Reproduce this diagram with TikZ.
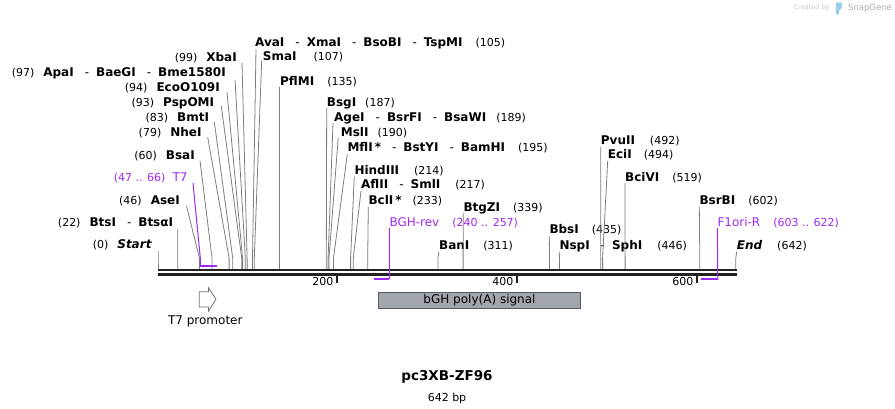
\documentclass[tikz,border=0pt]{standalone}
\usepackage{fontspec}
\setmainfont{DejaVu Sans}
\usepackage{tikz}
\usetikzlibrary{positioning}

\definecolor{primer}{RGB}{160,40,240}
\definecolor{leadgray}{RGB}{125,125,125}
\definecolor{bbcol}{RGB}{34,34,34}
\definecolor{featgray}{RGB}{163,167,173}
\definecolor{featedge}{RGB}{85,90,96}
\definecolor{logoblue}{RGB}{150,205,240}

\newcommand{\enz}[1]{{\fontsize{12}{14}\selectfont\bfseries #1}}
\newcommand{\enzsep}{{\mdseries\hspace{11pt}-\hspace{7pt}}}
\newcommand{\prm}[1]{{\fontsize{12}{14}\selectfont #1}}

\tikzset{
  lbl/.style={font=\fontsize{11}{13}\selectfont, inner sep=0pt},
  rlbl/.style={lbl, anchor=base west},
  llbl/.style={lbl, anchor=base east},
  leader/.style={draw=leadgray, line width=0.8pt},
  primerline/.style={draw=primer, line width=1pt},
  primerbar/.style={draw=primer, line width=2pt},
}

\begin{document}
\begin{tikzpicture}[x=1pt,y=-1pt]
\useasboundingbox (0,0) rectangle (895,408);

% sites, 0.9pt per bp
\foreach \p in {0,22,46,60,79,83,93,94,97,99,105,107,135,187,189,190,195,214,217,233,311,339,435,446,492,494,519,602,642}
  \coordinate (s\p) at ({158+0.9*\p},258);
\foreach \p in {47,66}
  \coordinate (p\p) at ({158+0.9*\p},266);
\foreach \p in {240,257,603,622}
  \coordinate (p\p) at ({158+0.9*\p},279);
\coordinate (bbl) at (158,270.3);
\coordinate (bbr) at (737,270.3);

% left labels
\node[llbl] (xbaI) at (237,61.2) {(99)\hspace{9pt}\enz{XbaI}};
\node[llbl] (apaI) at (226,76.8) {(97)\hspace{9pt}\enz{ApaI\enzsep BaeGI\enzsep Bme1580I}};
\node[llbl] (ecoO109I) at (220,91.2) {(94)\hspace{9pt}\enz{EcoO109I}};
\node[llbl] (pspOMI) at (214.3,106.2) {(93)\hspace{9pt}\enz{PspOMI}};
\node[llbl] (bmtI) at (209.3,121.8) {(83)\hspace{9pt}\enz{BmtI}};
\node[llbl] (nheI) at (201.7,136.2) {(79)\hspace{9pt}\enz{NheI}};
\node[llbl] (bsaI) at (195,159.5) {(60)\hspace{9pt}\enz{BsaI}};
\node[llbl, text=primer] (t7) at (187.7,181.8) {(47 .. 66)\hspace{7pt}\prm{T7}};
\node[llbl] (aseI) at (180,204.5) {(46)\hspace{9pt}\enz{AseI}};
\node[llbl] (btsI) at (173.3,226.2) {(22)\hspace{9pt}\enz{BtsI\enzsep BtsαI}};
\node[llbl] (start) at (151.7,248.8) {(0)\hspace{9pt}\enz{\itshape Start}};

% right labels
\node[rlbl] (avaI) at (255,46.8) {\enz{AvaI\enzsep XmaI\enzsep BsoBI\enzsep TspMI}\hspace{13pt}(105)};
\node[rlbl] (smaI) at (262.7,60.5) {\enz{SmaI}\hspace{17pt}(107)};
\node[rlbl] (pflMI) at (280,85.5) {\enz{PflMI}\hspace{13pt}(135)};
\node[rlbl] (bsgI) at (326.7,106.2) {\enz{BsgI}\hspace{9pt}(187)};
\node[rlbl] (ageI) at (334,121.2) {\enz{AgeI\enzsep BsrFI\enzsep BsaWI}\hspace{10pt}(189)};
\node[rlbl] (mslI) at (340.7,136.2) {\enz{MslI}\hspace{9pt}(190)};
\node[rlbl] (mflI) at (347.3,151.2) {\enz{MflI\hspace{2pt}*\enzsep BstYI\enzsep BamHI}\hspace{13pt}(195)};
\node[rlbl] (hindIII) at (354.3,174.5) {\enz{HindIII}\hspace{15pt}(214)};
\node[rlbl] (aflII) at (361,188.8) {\enz{AflII\enzsep SmlI}\hspace{15pt}(217)};
\node[rlbl] (bclI) at (368.3,204.5) {\enz{BclI\hspace{2pt}*}\hspace{11pt}(233)};
\node[rlbl] (btgZI) at (463.3,211.2) {\enz{BtgZI}\hspace{13pt}(339)};
\node[rlbl] (banI) at (439,249.5) {\enz{BanI}\hspace{14pt}(311)};
\node[rlbl] (bbsI) at (549.3,233.8) {\enz{BbsI}\hspace{13pt}(435)};
\node[rlbl] (nspI) at (559.3,249.5) {\enz{NspI\enzsep SphI}\hspace{15pt}(446)};
\node[rlbl] (pvuII) at (600.7,144.5) {\enz{PvuII}\hspace{15pt}(492)};
\node[rlbl] (eciI) at (607.7,158.8) {\enz{EciI}\hspace{12pt}(494)};
\node[rlbl] (bciVI) at (625,181.2) {\enz{BciVI}\hspace{13pt}(519)};
\node[rlbl] (bsrBI) at (699.3,204.5) {\enz{BsrBI}\hspace{13pt}(602)};
\node[rlbl] (endl) at (736.7,249.5) {\enz{\itshape End}\hspace{15pt}(642)};
\node[rlbl, text=primer] (bghrev) at (389.3,226.2) {\prm{BGH-rev}\hspace{13pt}(240 .. 257)};
\node[rlbl, text=primer] (f1oriR) at (717.3,226.2) {\prm{F1ori-R}\hspace{13pt}(603 .. 622)};

% leaders
\draw[leader] ([shift={(5,1.5)}]xbaI.base east) -- (s99) -- (s99 |- bbl);
\draw[leader] ([shift={(9,3)}]apaI.base east) -- (s97) -- (s97 |- bbl);
\draw[leader] ([shift={(7,1)}]ecoO109I.base east) -- (s94) -- (s94 |- bbl);
\draw[leader] ([shift={(7,0)}]pspOMI.base east) -- (s93) -- (s93 |- bbl);
\draw[leader] ([shift={(5,0)}]bmtI.base east) -- (s83) -- (s83 |- bbl);
\draw[leader] ([shift={(6,1)}]nheI.base east) -- (s79) -- (s79 |- bbl);
\draw[leader] ([shift={(5,1.2)}]bsaI.base east) -- (s60) -- (s60 |- bbl);
\draw[leader] ([shift={(6.5,1.2)}]aseI.base east) -- (s46) -- (s46 |- bbl);
\draw[leader] ([shift={(4.5,3)}]btsI.base east) -- (s22) -- (s22 |- bbl);
\draw[leader] ([shift={(6.3,2)}]start.base east) -- (s0) -- (s0 |- bbl);
\draw[leader] ([shift={(1,2.5)}]avaI.base west) -- (s105) -- (s105 |- bbl);
\draw[leader] ([shift={(-1,0)}]smaI.base west) -- (s107) -- (s107 |- bbl);
\draw[leader] ([shift={(-0.5,1.2)}]pflMI.base west) -- (s135) -- (s135 |- bbl);
\draw[leader] ([shift={(0,2)}]bsgI.base west) -- (s187) -- (s187 |- bbl);
\draw[leader] ([shift={(-1,2)}]ageI.base west) -- (s189) -- (s189 |- bbl);
\draw[leader] ([shift={(-2.5,2)}]mslI.base west) -- (s190) -- (s190 |- bbl);
\draw[leader] ([shift={(0,3)}]mflI.base west) -- (s195) -- (s195 |- bbl);
\draw[leader] ([shift={(0,2)}]hindIII.base west) -- (s214) -- (s214 |- bbl);
\draw[leader] ([shift={(0,2)}]aflII.base west) -- (s217) -- (s217 |- bbl);
\draw[leader] ([shift={(0,2)}]bclI.base west) -- (s233) -- (s233 |- bbl);
\draw[leader] ([shift={(0,2)}]btgZI.base west) -- (s339) -- (s339 |- bbl);
\draw[leader] ([shift={(0,2)}]banI.base west) -- (s311) -- (s311 |- bbl);
\draw[leader] ([shift={(0,2)}]bbsI.base west) -- (s435) -- (s435 |- bbl);
\draw[leader] ([shift={(0,2)}]nspI.base west) -- (s446) -- (s446 |- bbl);
\draw[leader] ([shift={(0,2)}]pvuII.base west) -- (s492) -- (s492 |- bbl);
\draw[leader] ([shift={(0,2)}]eciI.base west) -- (s494) -- (s494 |- bbl);
\draw[leader] ([shift={(0,2)}]bciVI.base west) -- (s519) -- (s519 |- bbl);
\draw[leader] ([shift={(0,2)}]bsrBI.base west) -- (s602) -- (s602 |- bbl);
\draw[leader] ([shift={(0,2)}]endl.base west) -- (s642) -- (s642 |- bbl);

% backbone
\draw[bbcol, line width=2.2pt] (bbl) -- (bbr);
\draw[bbcol, line width=2.2pt] ([yshift=-4.2pt]bbl) -- ([yshift=-4.2pt]bbr);

% ticks
\foreach \t/\x in {200/337,400/517,600/697}{
  \draw[bbcol, line width=2pt] (\x,275.5) -- (\x,282.5);
  \node[lbl, anchor=east] (tick\t) at (\x-3.5,281.5) {\t};
}

% primers
\draw[primerline] ([shift={(5.3,1.2)}]t7.base east) -- (p47 |- s46) -- (p47);
\draw[primerbar] (p47) -- (p66);
\draw[primerline] ([shift={(0,2)}]bghrev.base west) -- (p257);
\draw[primerbar] (p240) -- (p257);
\draw[primerline] ([shift={(0,2)}]f1oriR.base west) -- (p622);
\draw[primerbar] (p603) -- (p622);

% features
\node[draw=featedge, fill=featgray, line width=0.9pt, minimum width=202.4pt, minimum height=16pt, inner sep=0pt, font=\fontsize{12}{14}\selectfont] (bgh) at (479.5,300.3) {bGH poly(A) signal};
\draw[draw=gray!90!black, fill=white, line width=0.8pt] (199.3,291.7) -- (208.5,291.7) -- (208.5,287.7) -- (216,299.3) -- (208.5,311) -- (208.5,307) -- (199.3,307) -- cycle;
\node[font=\fontsize{12}{14}\selectfont] (t7prom) at (205.3,321.7) {T7 promoter};

% title
\node[font=\fontsize{13.5}{16}\selectfont\bfseries] (title) at (447,377) {pc3XB-ZF96};
\node[font=\fontsize{11}{13}\selectfont, below=2.5pt of title] (size) {642 bp};

% logo
\node[text=gray!45, font=\fontsize{6.5}{8}\selectfont, anchor=east] (created) at (833,8) {Created by};
\fill[logoblue, rounded corners=1pt] (836,2.5) -- (842,2.5) -- (842,8.5) -- (839.2,9.5) -- (839.2,14.5) -- (836,14.5) -- cycle;
\node[text=gray!65, font=\fontsize{8.5}{10}\selectfont, anchor=west] (snapgene) at (844.5,8) {SnapGene};
\end{tikzpicture}
\end{document}
